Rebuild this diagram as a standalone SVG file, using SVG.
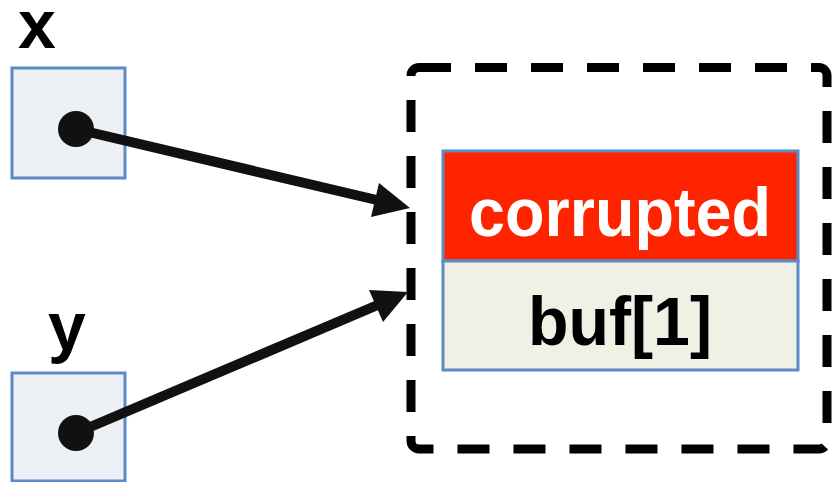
<svg xmlns="http://www.w3.org/2000/svg" width="835" height="482" viewBox="0 0 835 482">
<style>
.var{fill:#EDF0F5;stroke:#5B8AC6;stroke-width:3}
.lbl{font-family:"Liberation Sans",Arial,sans-serif;font-weight:bold;fill:#000}
.dot{fill:#111}
.conn{stroke:#111;stroke-width:10;fill:none}
.head{fill:#111}
.cell{stroke:#5B8AC6;stroke-width:3}
</style>
<rect width="835" height="482" fill="#fff"/>
<g id="node-x">
<text class="lbl" x="18" y="48" font-size="68">x</text>
<rect class="var" x="12" y="68" width="113" height="110"/>
</g>
<g id="node-y">
<text class="lbl" x="48" y="350" font-size="68">y</text>
<rect class="var" x="12" y="373" width="113" height="108"/>
</g>
<g id="node-region">
<rect x="411" y="67.5" width="416" height="381.5" rx="8" fill="none" stroke="#000" stroke-width="9" stroke-dasharray="32 24"/>
</g>
<g id="node-cells">
<rect class="cell" x="443" y="151" width="355" height="110" fill="#FF2400"/>
<rect class="cell" x="443" y="261" width="355" height="109" fill="#EEF1E4"/>
<text class="lbl" x="620" y="236" font-size="68" text-anchor="middle" fill="#fff" style="fill:#fff" textLength="302" lengthAdjust="spacingAndGlyphs">corrupted</text>
<text class="lbl" x="620" y="345" font-size="68" text-anchor="middle" textLength="184" lengthAdjust="spacingAndGlyphs">buf[1]</text>
</g>
<g id="connectors">
<line class="conn" x1="76" y1="129" x2="381" y2="201"/>
<polygon class="head" points="410,208 371,217 379,183"/>
<circle class="dot" cx="76" cy="129" r="18"/>
<line class="conn" x1="76" y1="433" x2="380" y2="304"/>
<polygon class="head" points="408,292 383,322 369,290"/>
<circle class="dot" cx="76" cy="433" r="18"/>
</g>
</svg>
